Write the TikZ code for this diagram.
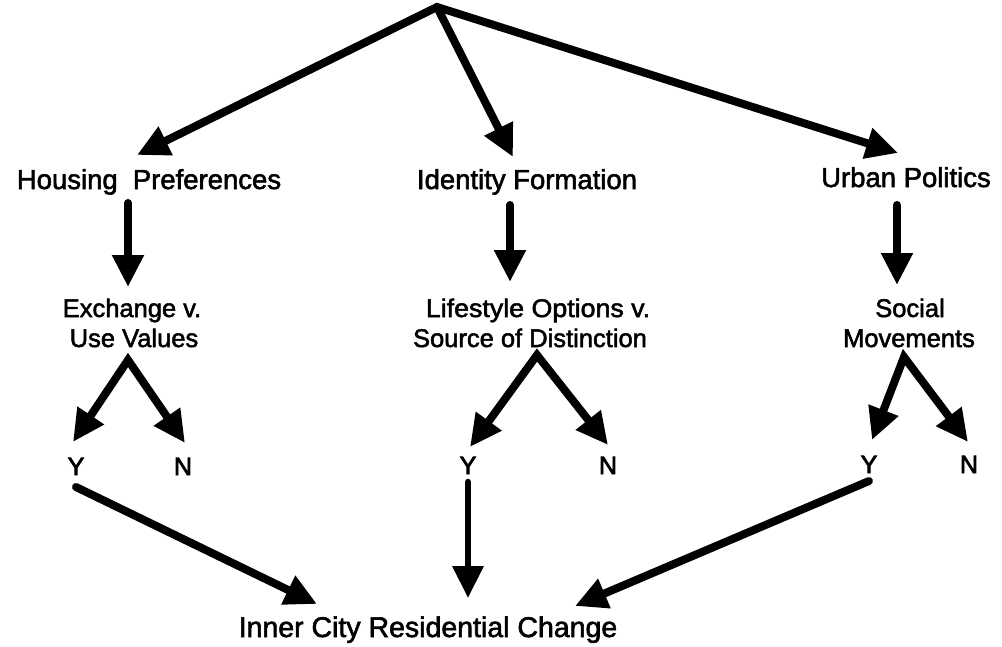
\documentclass[tikz,border=0pt]{standalone}
\usepackage{fontspec}
\setmainfont{Liberation Sans}
\newfontfamily\heavysans{Liberation Sans}[FakeBold=2]
\newfontfamily\heaviersans{Liberation Sans}[FakeBold=3]
\usetikzlibrary{arrows.meta}
\begin{document}
\begin{tikzpicture}[x=1pt,y=-1pt,
  arr/.style={line width=8pt,line cap=round,-{Triangle[length=32pt,width=30pt]}},
  twoway/.style={line width=8pt,line join=miter,
    {Triangle[length=32pt,width=30pt]}-{Triangle[length=32pt,width=30pt]}},
  lab/.style={inner sep=0pt,anchor=base,font=\heavysans\fontsize{27.5}{30}\selectfont},
  sub/.style={inner sep=0pt,anchor=base,font=\heavysans\fontsize{25.5}{30}\selectfont},
  yn/.style={inner sep=0pt,anchor=base,font=\heaviersans\fontsize{25}{30}\selectfont}]
\useasboundingbox (0,0) rectangle (1002,646);

% root of the tree
\coordinate (apex) at (437,7);

% first level
\node[lab] (hp) at (149,189) {Housing\hspace{0.55em}Preferences};
\node[lab] (if) at (527,189) {Identity Formation};
\node[lab] (up) at (906,187) {Urban Politics};

% second level
\node[sub] (ex1) at (132,317) {Exchange v.};
\node[sub] (ex2) at (134,347) {Use Values};
\node[sub,xscale=1.05] (ls1) at (538,317) {Lifestyle Options v.};
\node[sub] (ls2) at (530,347) {Source of Distinction};
\node[sub] (sm1) at (910,317) {Social};
\node[sub] (sm2) at (909,347) {Movements};

% yes / no outcomes
\node[yn] (hy) at (76,475) {Y};
\node[yn] (hn) at (183,475) {N};
\node[yn] (iy) at (468,474) {Y};
\node[yn] (in) at (608,474) {N};
\node[yn] (sy) at (869,473) {Y};
\node[yn] (sn) at (969,473) {N};

% outcome
\node[lab,font=\heavysans\fontsize{28.5}{30}\selectfont] (irc) at (428,637) {Inner City Residential Change};

% from the root
\draw[twoway] ([shift={(-12,-34)}]hp.base) -- (apex) -- ([shift={(-8,-34)}]up.base);
\draw[arr] (apex) -- ([shift={(-14,-32)}]if.base);

% first to second level
\draw[arr] ([shift={(-21,14)}]hp.base) -- ([shift={(-4,-30)}]ex1.base);
\draw[arr] ([shift={(-17,16)}]if.base) -- ([shift={(-28,-35)}]ls1.base);
\draw[arr] ([shift={(-9,18)}]up.base) -- ([shift={(-13,-32)}]sm1.base);

% yes / no forks
\draw[twoway] ([shift={(-3,-33)}]hy.base) -- ([shift={(-6,13)}]ex2.base) -- ([shift={(2,-32)}]hn.base);
\draw[twoway] ([shift={(2,-27)}]iy.base) -- ([shift={(7,8)}]ls2.base) -- ([shift={(0,-29)}]in.base);
\draw[twoway] ([shift={(3,-33)}]sy.base) -- ([shift={(-5,10)}]sm2.base) -- ([shift={(-1,-31)}]sn.base);

% yes branches into the outcome
\draw[arr] ([shift={(0,12)}]hy.base) -- ([shift={(-111,-33)}]irc.base);
\draw[arr,line width=6.5pt] ([shift={(0,8)}]iy.base) -- ([shift={(40,-39)}]irc.base);
\draw[arr] ([shift={(0,8)}]sy.base) -- ([shift={(147,-31)}]irc.base);
\end{tikzpicture}
\end{document}
